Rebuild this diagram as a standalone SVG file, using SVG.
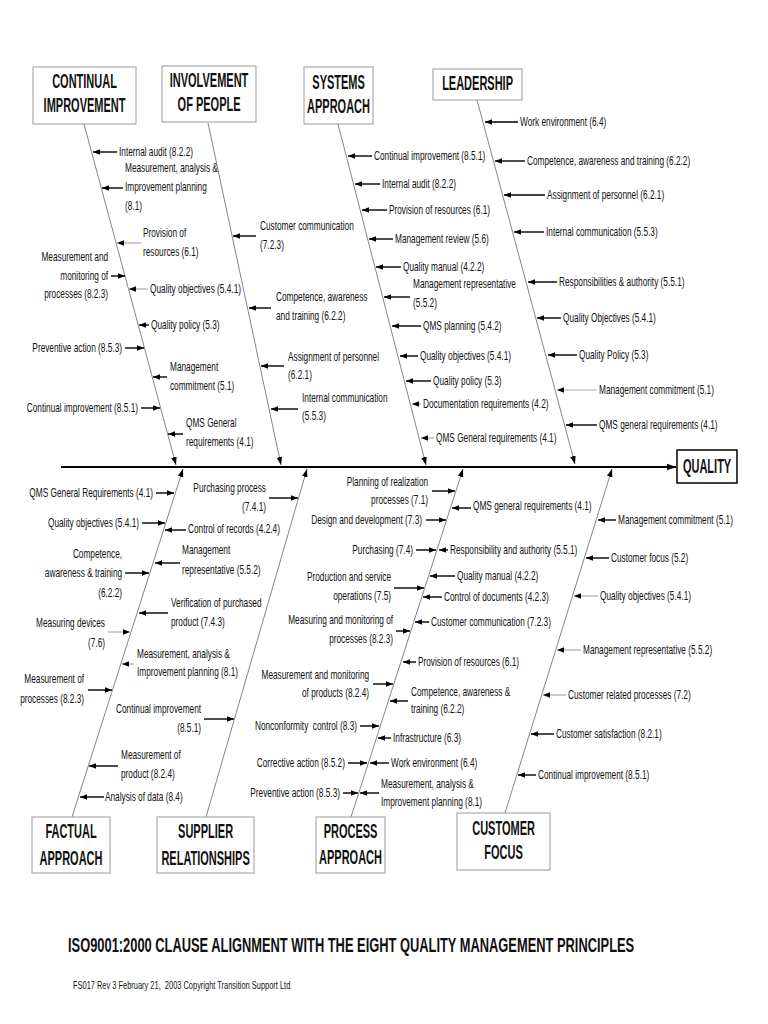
<svg xmlns="http://www.w3.org/2000/svg" width="768" height="1024" viewBox="0 0 768 1024">
<style>
.bx{fill:#fff;stroke:#999;stroke-width:1}
.bt{font-family:"Liberation Sans",Arial,sans-serif;font-weight:bold;font-size:20px;fill:#111;text-anchor:middle;transform-box:fill-box;transform-origin:50% 0;transform:scaleX(.55)}
.l,.r{font-family:"Liberation Sans",Arial,sans-serif;font-size:12px;fill:#111;transform-box:fill-box}
.l{transform-origin:0 0;transform:scaleX(.69)}
.r{text-anchor:end;transform-origin:100% 0;transform:scaleX(.69)}
.bone{stroke:#777;stroke-width:.9;fill:none;marker-end:url(#bh)}
.a{stroke:#000;stroke-width:1.4;marker-end:url(#ah)}
.g{stroke:#aaa;stroke-width:1.2;marker-end:url(#ah)}
.ttl{font-family:"Liberation Sans",Arial,sans-serif;font-weight:bold;font-size:19.5px;fill:#111;transform-box:fill-box;transform-origin:0 0;transform:scaleX(.66)}
.ft{font-family:"Liberation Sans",Arial,sans-serif;font-size:10.5px;fill:#111;transform-box:fill-box;transform-origin:0 0;transform:scaleX(.71)}
</style>
<defs>
<marker id="ah" markerUnits="userSpaceOnUse" markerWidth="7" markerHeight="7" viewBox="0 0 10 10" refX="10" refY="5" orient="auto"><path d="M0,1 L10,5 L0,9z" fill="#000"/></marker>
<marker id="bh" markerUnits="userSpaceOnUse" markerWidth="8" markerHeight="8" viewBox="0 0 10 10" refX="10" refY="5" orient="auto"><path d="M0,1.5 L10,5 L0,8.5z" fill="#000"/></marker>
<marker id="sh" markerUnits="userSpaceOnUse" markerWidth="9" markerHeight="9" viewBox="0 0 10 10" refX="10" refY="5" orient="auto"><path d="M0,1.5 L10,5 L0,8.5z" fill="#000"/></marker>
</defs>
<rect width="768" height="1024" fill="#fff"/>

<g id="connectors">
<line x1="61" y1="467" x2="676" y2="467" stroke="#000" stroke-width="2" marker-end="url(#sh)"/>
<line class="bone" x1="84" y1="124" x2="176" y2="465"/>
<line class="bone" x1="208" y1="123" x2="281" y2="465"/>
<line class="bone" x1="338" y1="124" x2="426" y2="465"/>
<line class="bone" x1="477" y1="100" x2="575" y2="464"/>
<line class="bone" x1="72" y1="817" x2="183" y2="469"/>
<line class="bone" x1="206" y1="817" x2="307" y2="469"/>
<line class="bone" x1="351" y1="817" x2="463" y2="469"/>
<line class="bone" x1="505" y1="813" x2="612" y2="469"/>

<line class="a" x1="117" y1="152" x2="93" y2="152"/>
<line class="a" x1="123" y1="188" x2="102" y2="188"/>
<line class="g" x1="141" y1="243" x2="117" y2="243"/>
<line class="a" x1="111" y1="276" x2="125" y2="276"/>
<line class="g" x1="148" y1="289" x2="129" y2="289"/>
<line class="a" x1="149" y1="325" x2="139" y2="325"/>
<line class="a" x1="125" y1="348" x2="144" y2="348"/>
<line class="a" x1="167" y1="377" x2="153" y2="377"/>
<line class="a" x1="141" y1="408" x2="160" y2="408"/>
<line class="a" x1="183" y1="434" x2="168" y2="434"/>

<line class="a" x1="256" y1="236" x2="233" y2="236"/>
<line class="a" x1="271" y1="308" x2="249" y2="308"/>
<line class="a" x1="284" y1="366" x2="261" y2="366"/>
<line class="a" x1="298" y1="409" x2="271" y2="409"/>

<line class="a" x1="372" y1="156" x2="348" y2="156"/>
<line class="a" x1="380" y1="184" x2="355" y2="184"/>
<line class="a" x1="387" y1="210" x2="362" y2="210"/>
<line class="a" x1="393" y1="239" x2="369" y2="239"/>
<line class="a" x1="401" y1="267" x2="376" y2="267"/>
<line class="a" x1="410" y1="297" x2="384" y2="297"/>
<line class="a" x1="421" y1="326" x2="392" y2="326"/>
<line class="a" x1="418" y1="356" x2="400" y2="356"/>
<line class="a" x1="431" y1="381" x2="406" y2="381"/>
<line class="g" x1="421" y1="404" x2="412" y2="404"/>
<line class="g" x1="434" y1="438" x2="421" y2="438"/>

<line class="a" x1="518" y1="122" x2="485" y2="122"/>
<line class="a" x1="525" y1="161" x2="495" y2="161"/>
<line class="a" x1="545" y1="195" x2="504" y2="195"/>
<line class="a" x1="544" y1="232" x2="514" y2="232"/>
<line class="a" x1="557" y1="282" x2="528" y2="282"/>
<line class="a" x1="561" y1="318" x2="537" y2="318"/>
<line class="a" x1="577" y1="355" x2="548" y2="355"/>
<line class="g" x1="597" y1="390" x2="557" y2="390"/>
<line class="a" x1="597" y1="425" x2="566" y2="425"/>

<line class="a" x1="156" y1="493" x2="174" y2="493"/>
<line class="a" x1="142" y1="523" x2="165" y2="523"/>
<line class="a" x1="125" y1="573" x2="149" y2="573"/>
<line class="g" x1="108" y1="632" x2="130" y2="632"/>
<line class="a" x1="88" y1="690" x2="112" y2="690"/>
<line class="a" x1="118" y1="766" x2="89" y2="766"/>
<line class="a" x1="104" y1="797" x2="80" y2="797"/>
<line class="a" x1="186" y1="530" x2="165" y2="530"/>
<line class="a" x1="180" y1="563" x2="155" y2="563"/>
<line class="a" x1="168" y1="613" x2="139" y2="613"/>
<line class="g" x1="134" y1="664" x2="122" y2="664"/>

<line class="a" x1="269" y1="498" x2="298" y2="498"/>
<line class="a" x1="204" y1="719" x2="234" y2="719"/>

<line class="a" x1="432" y1="491" x2="455" y2="491"/>
<line class="a" x1="471" y1="508" x2="452" y2="508"/>
<line class="a" x1="426" y1="520" x2="446" y2="520"/>
<line class="a" x1="416" y1="550" x2="436" y2="550"/>
<line class="a" x1="448" y1="550" x2="439" y2="550"/>
<line class="a" x1="455" y1="576" x2="430" y2="576"/>
<line class="a" x1="394" y1="588" x2="424" y2="588"/>
<line class="a" x1="442" y1="597" x2="423" y2="597"/>
<line class="a" x1="396" y1="631" x2="410" y2="631"/>
<line class="a" x1="429" y1="622" x2="415" y2="622"/>
<line class="a" x1="416" y1="662" x2="403" y2="662"/>
<line class="a" x1="373" y1="684" x2="393" y2="684"/>
<line class="a" x1="408" y1="701" x2="390" y2="701"/>
<line class="a" x1="360" y1="726" x2="379" y2="726"/>
<line class="a" x1="391" y1="738" x2="378" y2="738"/>
<line class="a" x1="348" y1="763" x2="367" y2="763"/>
<line class="a" x1="389" y1="763" x2="370" y2="763"/>
<line class="a" x1="343" y1="793" x2="358" y2="793"/>
<line class="a" x1="379" y1="793" x2="360" y2="793"/>

<line class="a" x1="616" y1="520" x2="598" y2="520"/>
<line class="a" x1="609" y1="558" x2="586" y2="558"/>
<line class="g" x1="598" y1="596" x2="574" y2="596"/>
<line class="g" x1="581" y1="650" x2="557" y2="650"/>
<line class="g" x1="566" y1="695" x2="543" y2="695"/>
<line class="a" x1="554" y1="734" x2="531" y2="734"/>
<line class="a" x1="536" y1="775" x2="518" y2="775"/>
</g>

<g id="n-continual"><rect class="bx" x="33" y="67" width="103" height="57"/><text class="bt" x="84.5" y="88">CONTINUAL</text><text class="bt" x="84.5" y="112">IMPROVEMENT</text></g>
<g id="n-involvement"><rect class="bx" x="162" y="66" width="94" height="56"/><text class="bt" x="209" y="87">INVOLVEMENT</text><text class="bt" x="209" y="111">OF PEOPLE</text></g>
<g id="n-systems"><rect class="bx" x="304" y="67" width="69" height="57"/><text class="bt" x="338.5" y="89">SYSTEMS</text><text class="bt" x="338.5" y="113">APPROACH</text></g>
<g id="n-leadership"><rect class="bx" x="433" y="69" width="89" height="31"/><text class="bt" x="477.5" y="90">LEADERSHIP</text></g>
<g id="n-quality"><rect x="677" y="450" width="60" height="33" fill="#fff" stroke="#000" stroke-width="1.5"/><text class="bt" x="707" y="473">QUALITY</text></g>
<g id="n-factual"><rect class="bx" x="32" y="817" width="78" height="56"/><text class="bt" x="71" y="838">FACTUAL</text><text class="bt" x="71" y="865">APPROACH</text></g>
<g id="n-supplier"><rect class="bx" x="157" y="817" width="97" height="56"/><text class="bt" x="205.5" y="838">SUPPLIER</text><text class="bt" x="205.5" y="865">RELATIONSHIPS</text></g>
<g id="n-process"><rect class="bx" x="316" y="817" width="69" height="56"/><text class="bt" x="350.5" y="838">PROCESS</text><text class="bt" x="350.5" y="864">APPROACH</text></g>
<g id="n-customer"><rect class="bx" x="457" y="813" width="93" height="57"/><text class="bt" x="503.5" y="835">CUSTOMER</text><text class="bt" x="503.5" y="859">FOCUS</text></g>

<g id="labels">
<text class="l" x="119" y="156">Internal audit (8.2.2)</text>
<text class="l" x="125" y="172">Measurement, analysis &amp;<tspan x="125" dy="19">Improvement planning</tspan><tspan x="125" dy="19">(8.1)</tspan></text>
<text class="l" x="143" y="237">Provision of<tspan x="143" dy="19">resources (6.1)</tspan></text>
<text class="r" x="108" y="261">Measurement and<tspan x="108" dy="19">monitoring of</tspan><tspan x="108" dy="18">processes (8.2.3)</tspan></text>
<text class="l" x="150" y="293">Quality objectives (5.4.1)</text>
<text class="l" x="151" y="329">Quality policy (5.3)</text>
<text class="r" x="122" y="352">Preventive action (8.5.3)</text>
<text class="l" x="170" y="371">Management<tspan x="170" dy="19">commitment (5.1)</tspan></text>
<text class="r" x="138" y="412">Continual improvement (8.5.1)</text>
<text class="l" x="186" y="427">QMS General<tspan x="186" dy="19">requirements (4.1)</tspan></text>

<text class="l" x="260" y="230">Customer communication<tspan x="260" dy="19">(7.2.3)</tspan></text>
<text class="l" x="276" y="301">Competence, awareness<tspan x="276" dy="19">and training (6.2.2)</tspan></text>
<text class="l" x="288" y="361">Assignment of personnel<tspan x="288" dy="18">(6.2.1)</tspan></text>
<text class="l" x="302" y="402">Internal communication<tspan x="302" dy="18">(5.5.3)</tspan></text>

<text class="l" x="374" y="160">Continual improvement (8.5.1)</text>
<text class="l" x="382" y="188">Internal audit (8.2.2)</text>
<text class="l" x="389" y="214">Provision of resources (6.1)</text>
<text class="l" x="395" y="243">Management review (5.6)</text>
<text class="l" x="403" y="271">Quality manual (4.2.2)</text>
<text class="l" x="413" y="288">Management representative<tspan x="413" dy="19">(5.5.2)</tspan></text>
<text class="l" x="423" y="330">QMS planning (5.4.2)</text>
<text class="l" x="420" y="360">Quality objectives (5.4.1)</text>
<text class="l" x="433" y="385">Quality policy (5.3)</text>
<text class="l" x="423" y="408">Documentation requirements (4.2)</text>
<text class="l" x="436" y="442">QMS General requirements (4.1)</text>

<text class="l" x="520" y="126">Work environment (6.4)</text>
<text class="l" x="527" y="165">Competence, awareness and training (6.2.2)</text>
<text class="l" x="547" y="199">Assignment of personnel (6.2.1)</text>
<text class="l" x="546" y="236">Internal communication (5.5.3)</text>
<text class="l" x="559" y="286">Responsibilities &amp; authority (5.5.1)</text>
<text class="l" x="563" y="322">Quality Objectives (5.4.1)</text>
<text class="l" x="579" y="359">Quality Policy (5.3)</text>
<text class="l" x="599" y="394">Management commitment (5.1)</text>
<text class="l" x="599" y="429">QMS general requirements (4.1)</text>

<text class="r" x="153" y="497">QMS General Requirements (4.1)</text>
<text class="r" x="139" y="527">Quality objectives (5.4.1)</text>
<text class="r" x="122" y="558">Competence,<tspan x="122" dy="19">awareness &amp; training</tspan><tspan x="122" dy="20">(6.2.2)</tspan></text>
<text class="r" x="105" y="627">Measuring devices<tspan x="105" dy="20">(7.6)</tspan></text>
<text class="r" x="84" y="683">Measurement of<tspan x="84" dy="20">processes (8.2.3)</tspan></text>
<text class="l" x="121" y="759">Measurement of<tspan x="121" dy="19">product (8.2.4)</tspan></text>
<text class="l" x="105" y="801">Analysis of data (8.4)</text>
<text class="r" x="266" y="492">Purchasing process<tspan x="266" dy="19">(7.4.1)</tspan></text>
<text class="l" x="188" y="533">Control of records (4.2.4)</text>
<text class="l" x="182" y="554">Management<tspan x="182" dy="20">representative (5.5.2)</tspan></text>
<text class="l" x="171" y="607">Verification of purchased<tspan x="171" dy="19">product (7.4.3)</tspan></text>
<text class="l" x="137" y="658">Measurement, analysis &amp;<tspan x="137" dy="18">Improvement planning (8.1)</tspan></text>
<text class="r" x="201" y="713">Continual improvement<tspan x="201" dy="19">(8.5.1)</tspan></text>

<text class="r" x="428" y="486">Planning of realization<tspan x="428" dy="18">processes (7.1)</tspan></text>
<text class="l" x="473" y="510">QMS general requirements (4.1)</text>
<text class="r" x="422" y="524">Design and development (7.3)</text>
<text class="r" x="413" y="554">Purchasing (7.4)</text>
<text class="l" x="450" y="554">Responsibility and authority (5.5.1)</text>
<text class="l" x="457" y="580">Quality manual (4.2.2)</text>
<text class="r" x="391" y="581">Production and service<tspan x="391" dy="19">operations (7.5)</tspan></text>
<text class="l" x="444" y="601">Control of documents (4.2.3)</text>
<text class="r" x="393" y="624">Measuring and monitoring of<tspan x="393" dy="19">processes (8.2.3)</tspan></text>
<text class="l" x="431" y="626">Customer communication (7.2.3)</text>
<text class="l" x="418" y="666">Provision of resources (6.1)</text>
<text class="r" x="369" y="679">Measurement and monitoring<tspan x="369" dy="18">of products (8.2.4)</tspan></text>
<text class="l" x="411" y="696">Competence, awareness &amp;<tspan x="411" dy="17">training (6.2.2)</tspan></text>
<text class="r" x="357" y="730" xml:space="preserve">Nonconformity  control (8.3)</text>
<text class="l" x="393" y="742">Infrastructure (6.3)</text>
<text class="r" x="345" y="767">Corrective action (8.5.2)</text>
<text class="l" x="391" y="767">Work environment (6.4)</text>
<text class="r" x="340" y="797">Preventive action (8.5.3)</text>
<text class="l" x="381" y="788">Measurement, analysis &amp;<tspan x="381" dy="18">Improvement planning (8.1)</tspan></text>

<text class="l" x="618" y="524">Management commitment (5.1)</text>
<text class="l" x="611" y="562">Customer focus (5.2)</text>
<text class="l" x="600" y="600">Quality objectives (5.4.1)</text>
<text class="l" x="583" y="654">Management representative (5.5.2)</text>
<text class="l" x="568" y="699">Customer related processes (7.2)</text>
<text class="l" x="556" y="738">Customer satisfaction (8.2.1)</text>
<text class="l" x="538" y="779">Continual improvement (8.5.1)</text>

<text class="ttl" x="68" y="952">ISO9001:2000 CLAUSE ALIGNMENT WITH THE EIGHT QUALITY MANAGEMENT PRINCIPLES</text>
<text class="ft" x="73" y="989" xml:space="preserve">FS017 Rev 3 February 21,  2003 Copyright Transition Support Ltd</text>
</g>
</svg>
